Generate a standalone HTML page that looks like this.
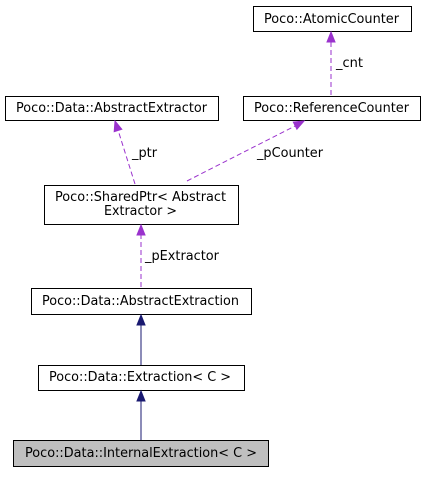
<!DOCTYPE html>
<html><head><style>
body{margin:0;background:#fff;}
svg text{font-family:"DejaVu Sans","Liberation Sans",sans-serif;font-size:13px;fill:#000;}
</style></head><body>
<svg width="426" height="472" viewBox="0 0 426 472" xmlns="http://www.w3.org/2000/svg">
<g fill="#fff" stroke="#000" stroke-width="1">
<rect x="253.5" y="6.5" width="158" height="25"/>
<rect x="5.5" y="96.5" width="213" height="24"/>
<rect x="243.5" y="96.5" width="177" height="24"/>
<rect x="44.5" y="185.5" width="194" height="39"/>
<rect x="31.5" y="288.5" width="220" height="26"/>
<rect x="38.5" y="365.5" width="206" height="25"/>
<rect x="13.5" y="440.5" width="255" height="26" fill="#bfbfbf"/>
</g>
<g lengthAdjust="spacingAndGlyphs">
<text x="264" y="23" textLength="135" lengthAdjust="spacingAndGlyphs">Poco::AtomicCounter</text>
<text x="16" y="112" textLength="191" lengthAdjust="spacingAndGlyphs">Poco::Data::AbstractExtractor</text>
<text x="254" y="112" textLength="155" lengthAdjust="spacingAndGlyphs">Poco::ReferenceCounter</text>
<text x="55" y="201" textLength="171" lengthAdjust="spacingAndGlyphs">Poco::SharedPtr&lt; Abstract</text>
<text x="104" y="215" textLength="73" lengthAdjust="spacingAndGlyphs">Extractor &gt;</text>
<text x="42" y="305" textLength="197" lengthAdjust="spacingAndGlyphs">Poco::Data::AbstractExtraction</text>
<text x="49" y="381" textLength="182" lengthAdjust="spacingAndGlyphs">Poco::Data::Extraction&lt; C &gt;</text>
<text x="25" y="457" textLength="232" lengthAdjust="spacingAndGlyphs">Poco::Data::InternalExtraction&lt; C &gt;</text>
<text x="336" y="67" textLength="27" lengthAdjust="spacingAndGlyphs">_cnt</text>
<text x="132" y="157" textLength="25" lengthAdjust="spacingAndGlyphs">_ptr</text>
<text x="257" y="157" textLength="66" lengthAdjust="spacingAndGlyphs">_pCounter</text>
<text x="145" y="260" textLength="74" lengthAdjust="spacingAndGlyphs">_pExtractor</text>
</g>
<g stroke="#9a32cd" stroke-width="1" stroke-dasharray="5,3" fill="none">
<line x1="331" y1="95" x2="331" y2="41"/>
<line x1="135" y1="184" x2="118" y2="130"/>
<line x1="187" y1="181" x2="295" y2="126"/>
<line x1="141" y1="287" x2="141" y2="235"/>
</g>
<g fill="#9a32cd" stroke="#9a32cd">
<polygon points="331,32 327,42 335,42"/>
<polygon points="115,121 121.8,129.3 114.2,131.7"/>
<polygon points="304,121 296.9,129.2 293.3,122"/>
<polygon points="141,225 137,235 145,235"/>
</g>
<g stroke="#191970" fill="#191970">
<line x1="141" y1="365" x2="141" y2="324"/>
<line x1="141" y1="440" x2="141" y2="400"/>
<polygon points="141,315 137,325 145,325"/>
<polygon points="141,391 137,401 145,401"/>
</g>
</svg>
</body></html>
